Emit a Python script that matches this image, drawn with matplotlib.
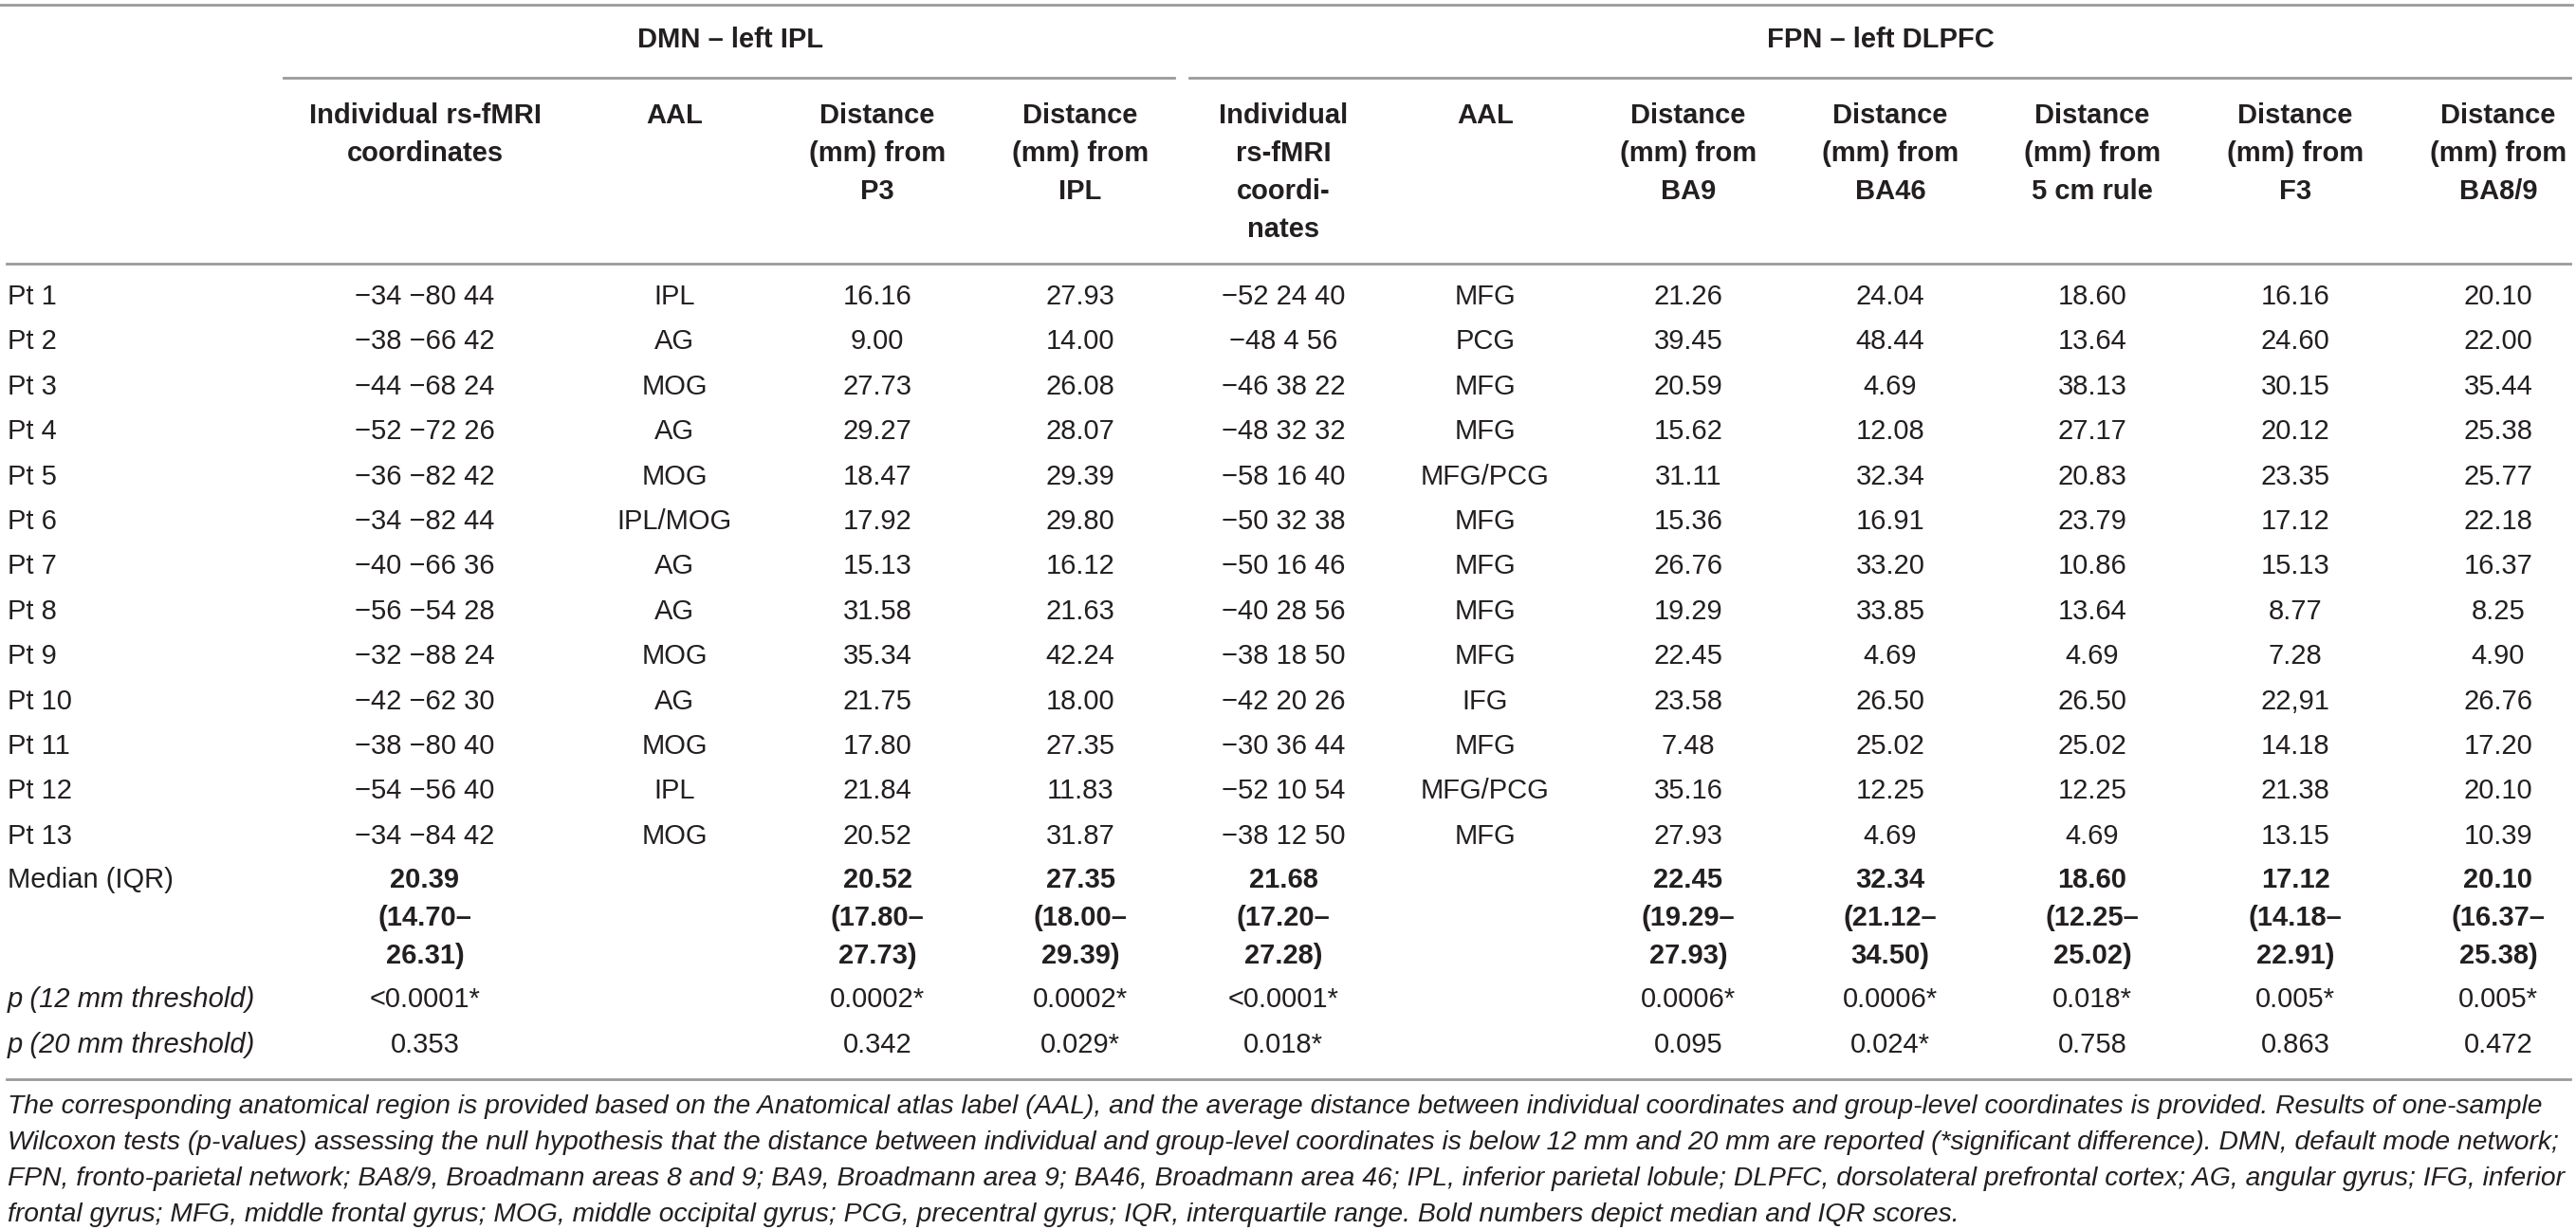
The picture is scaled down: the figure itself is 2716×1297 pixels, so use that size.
import matplotlib
matplotlib.use("Agg")
from matplotlib import pyplot as plt

plt.rcParams['font.family'] = ['Liberation Sans', 'DejaVu Sans']

# table content
patients = ['Pt %d' % i for i in range(1, 14)]

dmn_coords = ['\u221234 \u221280 44', '\u221238 \u221266 42', '\u221244 \u221268 24', '\u221252 \u221272 26',
              '\u221236 \u221282 42', '\u221234 \u221282 44', '\u221240 \u221266 36', '\u221256 \u221254 28',
              '\u221232 \u221288 24', '\u221242 \u221262 30', '\u221238 \u221280 40', '\u221254 \u221256 40',
              '\u221234 \u221284 42']
dmn_aal = ['IPL', 'AG', 'MOG', 'AG', 'MOG', 'IPL/MOG', 'AG', 'AG', 'MOG', 'AG', 'MOG', 'IPL', 'MOG']
dist_p3 = ['16.16', '9.00', '27.73', '29.27', '18.47', '17.92', '15.13', '31.58', '35.34', '21.75',
           '17.80', '21.84', '20.52']
dist_ipl = ['27.93', '14.00', '26.08', '28.07', '29.39', '29.80', '16.12', '21.63', '42.24', '18.00',
            '27.35', '11.83', '31.87']

fpn_coords = ['\u221252 24 40', '\u221248 4 56', '\u221246 38 22', '\u221248 32 32', '\u221258 16 40',
              '\u221250 32 38', '\u221250 16 46', '\u221240 28 56', '\u221238 18 50', '\u221242 20 26',
              '\u221230 36 44', '\u221252 10 54', '\u221238 12 50']
fpn_aal = ['MFG', 'PCG', 'MFG', 'MFG', 'MFG/PCG', 'MFG', 'MFG', 'MFG', 'MFG', 'IFG', 'MFG',
           'MFG/PCG', 'MFG']
dist_ba9 = ['21.26', '39.45', '20.59', '15.62', '31.11', '15.36', '26.76', '19.29', '22.45', '23.58',
            '7.48', '35.16', '27.93']
dist_ba46 = ['24.04', '48.44', '4.69', '12.08', '32.34', '16.91', '33.20', '33.85', '4.69', '26.50',
             '25.02', '12.25', '4.69']
dist_5cm = ['18.60', '13.64', '38.13', '27.17', '20.83', '23.79', '10.86', '13.64', '4.69', '26.50',
            '25.02', '12.25', '4.69']
dist_f3 = ['16.16', '24.60', '30.15', '20.12', '23.35', '17.12', '15.13', '8.77', '7.28', '22,91',
           '14.18', '21.38', '13.15']
dist_ba89 = ['20.10', '22.00', '35.44', '25.38', '25.77', '22.18', '16.37', '8.25', '4.90', '26.76',
             '17.20', '20.10', '10.39']

headers = ['Individual rs-fMRI\ncoordinates', 'AAL', 'Distance\n(mm) from\nP3', 'Distance\n(mm) from\nIPL',
           'Individual\nrs-fMRI\ncoordi-\nnates', 'AAL', 'Distance\n(mm) from\nBA9',
           'Distance\n(mm) from\nBA46', 'Distance\n(mm) from\n5 cm rule', 'Distance\n(mm) from\nF3',
           'Distance\n(mm) from\nBA8/9']

medians = ['20.39\n(14.70\u2013\n26.31)', '', '20.52\n(17.80\u2013\n27.73)', '27.35\n(18.00\u2013\n29.39)',
           '21.68\n(17.20\u2013\n27.28)', '', '22.45\n(19.29\u2013\n27.93)', '32.34\n(21.12\u2013\n34.50)',
           '18.60\n(12.25\u2013\n25.02)', '17.12\n(14.18\u2013\n22.91)', '20.10\n(16.37\u2013\n25.38)']
p12 = ['<0.0001*', '', '0.0002*', '0.0002*', '<0.0001*', '', '0.0006*', '0.0006*', '0.018*',
       '0.005*', '0.005*']
p20 = ['0.353', '', '0.342', '0.029*', '0.018*', '', '0.095', '0.024*', '0.758', '0.863', '0.472']

caption = [
    'The corresponding anatomical region is provided based on the Anatomical atlas label (AAL), and the average '
    'distance between individual coordinates and group-level coordinates is provided. Results of one-sample',
    'Wilcoxon tests (p-values) assessing the null hypothesis that the distance between individual and group-level '
    'coordinates is below 12 mm and 20 mm are reported (*significant difference). DMN, default mode network;',
    'FPN, fronto-parietal network; BA8/9, Broadmann areas 8 and 9; BA9, Broadmann area 9; BA46, Broadmann '
    'area 46; IPL, inferior parietal lobule; DLPFC, dorsolateral prefrontal cortex; AG, angular gyrus; IFG, inferior',
    'frontal gyrus; MFG, middle frontal gyrus; MOG, middle occipital gyrus; PCG, precentral gyrus; IQR, '
    'interquartile range. Bold numbers depict median and IQR scores.',
]

# layout (pixel coordinates)
W, H = 2716, 1297
col_x = [448, 711, 925, 1139, 1353, 1566, 1780, 1993, 2206, 2420, 2634]
label_x = 8
txt = '#231f20'
rule = '#9a9a9a'
fs = 21

fig = plt.figure(figsize=(W / 100, H / 100), dpi=100)
ax = fig.add_axes([0, 0, 1, 1])
ax.set_xlim(0, W)
ax.set_ylim(H, 0)
ax.axis('off')


def put(x, y, s, step=40, **kw):
    # multi-line cell, one text per line so the line pitch matches
    for i, line in enumerate(s.split('\n')):
        ax.text(x, y + i * step, line, ha='center', va='center', fontsize=fs, color=txt, **kw)


# rules
ax.plot([0, 2712], [5, 5], color=rule, lw=2)
ax.plot([299, 1238], [82, 82], color=rule, lw=2)
ax.plot([1254, 2710], [82, 82], color=rule, lw=2)
ax.plot([7, 2710], [278, 278], color=rule, lw=2)
ax.plot([7, 2710], [1138, 1138], color=rule, lw=2)

# group titles
ax.text(770, 42, 'DMN \u2013 left IPL', ha='center', va='center', fontsize=fs, color=txt, weight='bold')
ax.text(1983, 42, 'FPN \u2013 left DLPFC', ha='center', va='center', fontsize=fs, color=txt, weight='bold')

# column headers
for x, h in zip(col_x, headers):
    put(x, 122, h, weight='bold')

# body rows
columns = [dmn_coords, dmn_aal, dist_p3, dist_ipl, fpn_coords, fpn_aal,
           dist_ba9, dist_ba46, dist_5cm, dist_f3, dist_ba89]
row_y0, row_step = 313, 47.4
for r, pt in enumerate(patients):
    y = row_y0 + r * row_step
    ax.text(label_x, y, pt, ha='left', va='center', fontsize=fs, color=txt)
    for x, col in zip(col_x, columns):
        ax.text(x, y, col[r], ha='center', va='center', fontsize=fs, color=txt)

# summary rows
ax.text(label_x, 928, 'Median (IQR)', ha='left', va='center', fontsize=fs, color=txt)
for x, m in zip(col_x, medians):
    if m:
        put(x, 928, m, weight='bold')

ax.text(label_x, 1054, 'p (12 mm threshold)', ha='left', va='center', fontsize=fs, color=txt, style='italic')
ax.text(label_x, 1102, 'p (20 mm threshold)', ha='left', va='center', fontsize=fs, color=txt, style='italic')
for x, a, b in zip(col_x, p12, p20):
    ax.text(x, 1054, a, ha='center', va='center', fontsize=fs, color=txt)
    ax.text(x, 1102, b, ha='center', va='center', fontsize=fs, color=txt)

# caption
for i, line in enumerate(caption):
    ax.text(label_x, 1167 + i * 38, line, ha='left', va='center', fontsize=20.3, color=txt, style='italic')

fig.savefig('out.png', dpi=100)
